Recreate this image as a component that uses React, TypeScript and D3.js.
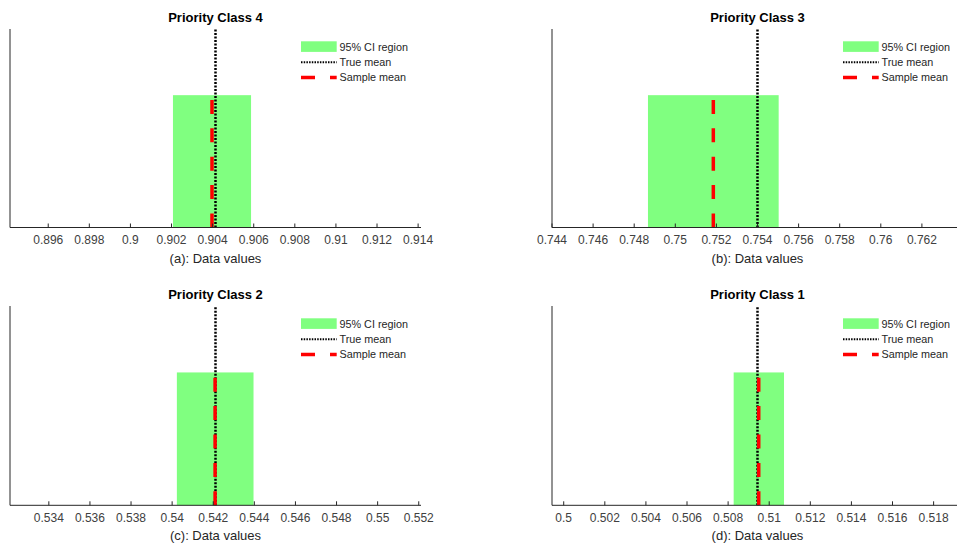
import React from "react";
import * as d3 from "d3";

// Confidence-interval summaries, one per priority class
const titles = ["Priority Class 4", "Priority Class 3", "Priority Class 2", "Priority Class 1"];
const panelTags = ["(a)", "(b)", "(c)", "(d)"];
const trueMeans = [0.90414, 0.754, 0.54211, 0.50943];
const sampleMeans = [0.90397, 0.75185, 0.54209, 0.50949];
const ciLow = [0.90207, 0.74867, 0.54023, 0.50827];
const ciHigh = [0.90587, 0.75503, 0.54396, 0.51072];
const xTicks = [
  [0.896, 0.898, 0.9, 0.902, 0.904, 0.906, 0.908, 0.91, 0.912, 0.914],
  [0.744, 0.746, 0.748, 0.75, 0.752, 0.754, 0.756, 0.758, 0.76, 0.762],
  [0.534, 0.536, 0.538, 0.54, 0.542, 0.544, 0.546, 0.548, 0.55, 0.552],
  [0.5, 0.502, 0.504, 0.506, 0.508, 0.51, 0.512, 0.514, 0.516, 0.518],
];
const halfSpan = 0.01; // x-limits: true mean +/- this
const yMax = 1.5;
const barHeight = 1;
const legendItems = ["95% CI region", "True mean", "Sample mean"];

const W = 957;
const H = 546;
const axW = 411;
const colX = [10, 552];
const rowTop = [29, 306];
const rowBottom = [227.5, 505.3];

const GREEN = "#80ff80";
const AXIS = "#262626";
const FONT = "'Liberation Sans', Arial, Helvetica, sans-serif";

function Panel({ i }: { i: number }) {
  const col = i % 2;
  const row = Math.floor(i / 2);
  const x0 = colX[col];
  const top = rowTop[row];
  const bottom = rowBottom[row];
  const x = d3.scaleLinear().domain([trueMeans[i] - halfSpan, trueMeans[i] + halfSpan]).range([x0, x0 + axW]);
  const y = d3.scaleLinear().domain([0, yMax]).range([bottom, top]);
  const fmt = (v: number) => String(+v.toFixed(3));
  const lx = x0 + 291;
  const cx = x0 + axW / 2;
  return (
    <g>
      {/* CI region */}
      <rect
        x={x(ciLow[i])}
        y={y(barHeight)}
        width={x(ciHigh[i]) - x(ciLow[i])}
        height={y(0) - y(barHeight)}
        fill={GREEN}
      />
      {/* true mean */}
      <line
        x1={x(trueMeans[i])}
        x2={x(trueMeans[i])}
        y1={y(0)}
        y2={y(yMax)}
        stroke="#000"
        strokeWidth={2.5}
        strokeDasharray="2,1.5"
      />
      {/* sample mean */}
      <line
        x1={x(sampleMeans[i])}
        x2={x(sampleMeans[i])}
        y1={y(0)}
        y2={y(barHeight)}
        stroke="#ff0000"
        strokeWidth={3.5}
        strokeDasharray="14,14.4"
      />
      {/* axes */}
      <line x1={x0} x2={x0} y1={top} y2={bottom} stroke={AXIS} strokeWidth={1} />
      <line x1={x0} x2={x0 + axW} y1={bottom} y2={bottom} stroke={AXIS} strokeWidth={1} />
      {xTicks[i].map((t) => (
        <g key={t}>
          <line x1={x(t)} x2={x(t)} y1={bottom} y2={bottom - 4} stroke={AXIS} strokeWidth={1} />
          <text x={x(t)} y={bottom + 16.5} textAnchor="middle" fontSize={12} fill="#404040" fontFamily={FONT}>
            {fmt(t)}
          </text>
        </g>
      ))}
      <text x={cx} y={bottom + 35} textAnchor="middle" fontSize={13} fill="#262626" fontFamily={FONT}>
        {`${panelTags[i]}: Data values`}
      </text>
      <text x={cx} y={top - 7.5} textAnchor="middle" fontSize={13} fontWeight="bold" fill="#000" fontFamily={FONT}>
        {titles[i]}
      </text>
      {/* legend */}
      <rect x={lx} y={top + 12.3} width={35.7} height={10.6} fill={GREEN} />
      <line x1={lx} x2={lx + 35.7} y1={top + 33.2} y2={top + 33.2} stroke="#000" strokeWidth={2} strokeDasharray="1.5,1.2" />
      <line x1={lx} x2={lx + 35.7} y1={top + 48.5} y2={top + 48.5} stroke="#ff0000" strokeWidth={3.5} strokeDasharray="14,15" />
      {legendItems.map((s, k) => (
        <text
          key={s}
          x={lx + 38.5}
          y={top + [17.6, 33.2, 48.5][k] + 3.9}
          fontSize={10.8}
          fill="#262626"
          fontFamily={FONT}
        >
          {s}
        </text>
      ))}
    </g>
  );
}

export default function App() {
  return (
    <svg
      width={W}
      height={H}
      viewBox={`0 0 ${W} ${H}`}
      style={{ position: "absolute", left: 0, top: 0, background: "#fff", overflow: "hidden" }}
    >
      <rect x={0} y={0} width={W} height={H} fill="#fff" />
      {titles.map((_, i) => (
        <Panel key={i} i={i} />
      ))}
    </svg>
  );
}
